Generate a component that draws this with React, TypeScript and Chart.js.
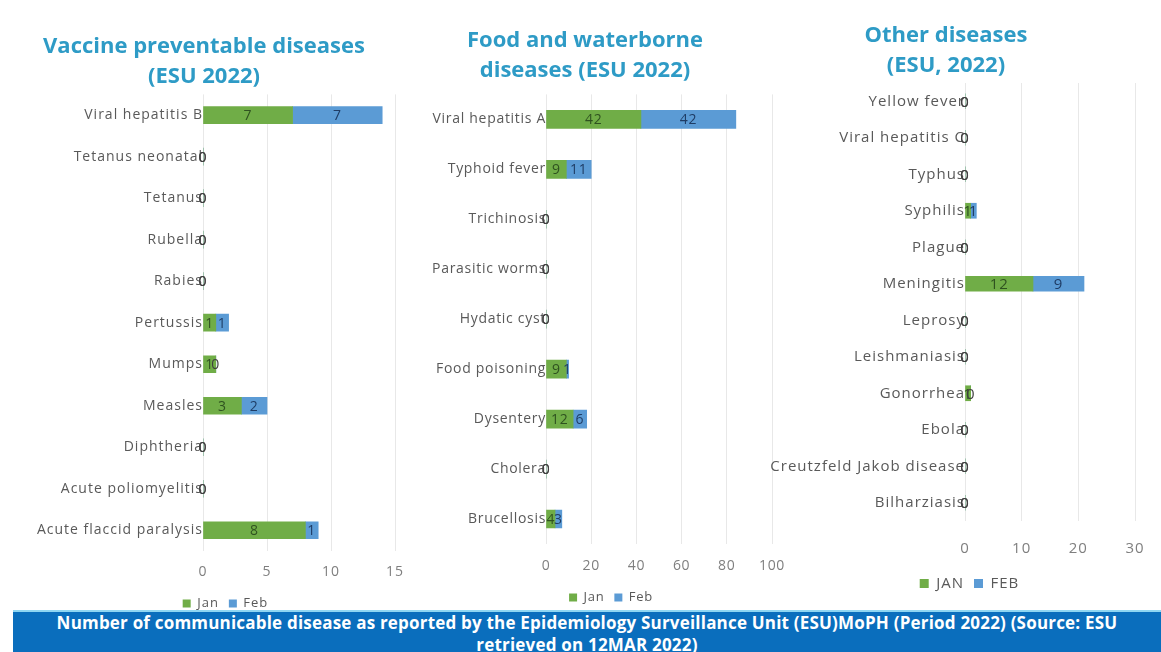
import React, { useEffect, useRef } from "react";
import { Chart, registerables } from "chart.js";

Chart.register(...registerables);

// ---------- DATA ----------
const vaccineLabels = [
  "Viral hepatitis B",
  "Tetanus neonatal",
  "Tetanus",
  "Rubella",
  "Rabies",
  "Pertussis",
  "Mumps",
  "Measles",
  "Diphtheria",
  "Acute poliomyelitis",
  "Acute flaccid paralysis",
];
const vaccineJan = [7, 0, 0, 0, 0, 1, 1, 3, 0, 0, 8];
const vaccineFeb = [7, 0, 0, 0, 0, 1, 0, 2, 0, 0, 1];

const foodLabels = [
  "Viral hepatitis A",
  "Typhoid fever",
  "Trichinosis",
  "Parasitic worms",
  "Hydatic cyst",
  "Food poisoning",
  "Dysentery",
  "Cholera",
  "Brucellosis",
];
const foodJan = [42, 9, 0, 0, 0, 9, 12, 0, 4];
const foodFeb = [42, 11, 0, 0, 0, 1, 6, 0, 3];

const otherLabels = [
  "Yellow fever",
  "Viral hepatitis C",
  "Typhus",
  "Syphilis",
  "Plague",
  "Meningitis",
  "Leprosy",
  "Leishmaniasis",
  "Gonorrhea",
  "Ebola",
  "Creutzfeld Jakob disease",
  "Bilharziasis",
];
const otherJan = [0, 0, 0, 1, 0, 12, 0, 0, 1, 0, 0, 0];
const otherFeb = [0, 0, 0, 1, 0, 9, 0, 0, 0, 0, 0, 0];

const legendLower = ["Jan", "Feb"];
const legendUpper = ["JAN", "FEB"];

const vaccineAxis = { max: 15, step: 5 };
const foodAxis = { max: 100, step: 20 };
const otherAxis = { max: 30, step: 10 };

const titles = [
  ["Vaccine preventable diseases", "(ESU 2022)"],
  ["Food and waterborne", "diseases (ESU 2022)"],
  ["Other diseases", "(ESU, 2022)"],
];
const footerText = [
  "Number of communicable disease as reported by the Epidemiology Surveillance Unit (ESU)MoPH (Period 2022) (Source: ESU",
  "retrieved on 12MAR 2022)",
];

// ---------- STYLE ----------
const FONT = "'Open Sans', 'DejaVu Sans', sans-serif";
const GREEN = "#70ad47";
const BLUE = "#5b9bd5";
const TITLE_COLOR = "#2e9bc6";

const valueLabels = {
  id: "valueLabels",
  afterDatasetsDraw(chart: any, _args: any, opts: any) {
    const ctx = chart.ctx;
    ctx.save();
    ctx.font = `${opts.size || 14}px ${FONT}`;
    ctx.textAlign = "center";
    ctx.textBaseline = "middle";
    const colors = ["#2f5220", "#1f3d66"];
    chart.data.datasets.forEach((ds: any, di: number) => {
      const meta = chart.getDatasetMeta(di);
      meta.data.forEach((el: any, i: number) => {
        const v = ds.data[i];
        const p = el.getProps(["x", "y", "base"], true);
        ctx.fillStyle = v === 0 ? "#404040" : colors[di];
        ctx.fillText(String(v), (p.x + p.base) / 2, p.y + 1);
      });
    });
    ctx.restore();
  },
};

// letter spacing for all canvas text + horizontal offset of the legend
const tweakPlugin = {
  id: "tweak",
  beforeUpdate(chart: any, _a: any, opts: any) {
    chart.ctx.letterSpacing = (opts.spacing || 0) + "px";
  },
  afterLayout(chart: any, _a: any, opts: any) {
    const lg = chart.legend;
    if (lg && opts.legendShift) {
      lg.left += opts.legendShift;
      lg.right += opts.legendShift;
    }
  },
  beforeDraw(chart: any, _a: any, opts: any) {
    chart.ctx.letterSpacing = (opts.spacing || 0) + "px";
  },
};

type PanelCfg = {
  labels: string[];
  jan: number[];
  feb: number[];
  legend: string[];
  axis: { max: number; step: number };
  left: number;
  top: number;
  width: number;
  height: number;
  padRight: number;
  padTop: number;
  yAxisW: number;
  xAxisH: number;
  tickPad: number;
  tickSize: number;
  labelSize: number;
  spacing: number;
  legendSize: number;
  legendBox: number;
  legendShift: number;
  valueSize: number;
  bar: number;
};

function Panel({ cfg }: { cfg: PanelCfg }) {
  const ref = useRef<HTMLCanvasElement>(null);
  useEffect(() => {
    if (!ref.current) return;
    const chart = new Chart(ref.current, {
      type: "bar",
      data: {
        labels: cfg.labels,
        datasets: [
          { label: cfg.legend[0], data: cfg.jan, backgroundColor: GREEN, barThickness: cfg.bar },
          { label: cfg.legend[1], data: cfg.feb, backgroundColor: BLUE, barThickness: cfg.bar },
        ],
      },
      options: {
        indexAxis: "y",
        animation: false,
        responsive: false,
        maintainAspectRatio: false,
        layout: { padding: { left: 0, right: cfg.padRight, top: cfg.padTop, bottom: 0 } },
        scales: {
          x: {
            stacked: true,
            min: 0,
            max: cfg.axis.max,
            ticks: {
              stepSize: cfg.axis.step,
              padding: cfg.tickPad,
              color: "#7f7f7f",
              font: { family: FONT, size: cfg.tickSize },
              maxRotation: 0,
            },
            grid: { color: "#e8e8e8", drawTicks: false },
            border: { display: false },
            afterFit: (s: any) => {
              s.height = cfg.xAxisH;
            },
          },
          y: {
            stacked: true,
            ticks: { padding: 0, color: "#595959", font: { family: FONT, size: cfg.labelSize } },
            grid: { display: false, drawTicks: false },
            border: { display: false },
            afterFit: (s: any) => {
              s.width = cfg.yAxisW;
            },
          },
        },
        plugins: {
          legend: {
            position: "bottom",
            labels: {
              boxWidth: cfg.legendBox,
              boxHeight: cfg.legendBox,
              padding: 10,
              color: "#595959",
              font: { family: FONT, size: cfg.legendSize },
            },
          },
          tooltip: { enabled: false },
          valueLabels: { size: cfg.valueSize },
          tweak: { spacing: cfg.spacing, legendShift: cfg.legendShift },
        },
      } as any,
      plugins: [tweakPlugin, valueLabels],
    });
    return () => chart.destroy();
  }, []);
  return (
    <canvas
      ref={ref}
      width={cfg.width}
      height={cfg.height}
      style={{ position: "absolute", left: cfg.left, top: cfg.top, width: cfg.width, height: cfg.height }}
    />
  );
}

const panels: PanelCfg[] = [
  {
    labels: vaccineLabels, jan: vaccineJan, feb: vaccineFeb, legend: legendLower, axis: vaccineAxis,
    left: 0, top: 86, width: 425, height: 534, padRight: 30, padTop: 7,
    yAxisW: 203, xAxisH: 36, tickPad: 13, tickSize: 14, labelSize: 14, spacing: 1,
    legendSize: 13, legendBox: 8, legendShift: 28, valueSize: 14, bar: 17,
  },
  {
    labels: foodLabels, jan: foodJan, feb: foodFeb, legend: legendLower, axis: foodAxis,
    left: 400, top: 86, width: 407, height: 528, padRight: 35, padTop: 6,
    yAxisW: 146, xAxisH: 37, tickPad: 14, tickSize: 14, labelSize: 14, spacing: 0.7,
    legendSize: 13, legendBox: 8, legendShift: 25, valueSize: 14, bar: 18,
  },
  {
    labels: otherLabels, jan: otherJan, feb: otherFeb, legend: legendUpper, axis: otherAxis,
    left: 770, top: 74, width: 397, height: 527, padRight: 32, padTop: 7,
    yAxisW: 195, xAxisH: 45, tickPad: 19, tickSize: 15, labelSize: 15, spacing: 1,
    legendSize: 15, legendBox: 9, legendShift: 17, valueSize: 15, bar: 15,
  },
];

const titlePos = [
  { cx: 204, top: 29 },
  { cx: 585, top: 23 },
  { cx: 946, top: 18 },
];

export default function App() {
  return (
    <div
      style={{
        position: "absolute",
        left: 0,
        top: 0,
        width: 1161,
        height: 652,
        overflow: "hidden",
        background: "#ffffff",
        fontFamily: FONT,
      }}
    >
      {panels.map((p, i) => (
        <Panel key={i} cfg={p} />
      ))}
      {titles.map((t, i) => (
        <div
          key={"t" + i}
          style={{
            position: "absolute",
            left: titlePos[i].cx - 200,
            top: titlePos[i].top,
            width: 400,
            textAlign: "center",
            color: TITLE_COLOR,
            fontWeight: 700,
            fontSize: 22,
            lineHeight: "30px",
          }}
        >
          <div>{t[0]}</div>
          <div>{t[1]}</div>
        </div>
      ))}
      <div
        style={{
          position: "absolute",
          left: 13,
          top: 610,
          width: 1148,
          height: 42,
          background: "#0a6ebd",
          borderTop: "2px solid #8fd6f2",
          color: "#ffffff",
          fontWeight: 700,
          fontSize: 17,
          letterSpacing: "0.2px",
          lineHeight: "22px",
          textAlign: "center",
          whiteSpace: "nowrap",
        }}
      >
        <div>{footerText[0]}</div>
        <div>{footerText[1]}</div>
      </div>
    </div>
  );
}
